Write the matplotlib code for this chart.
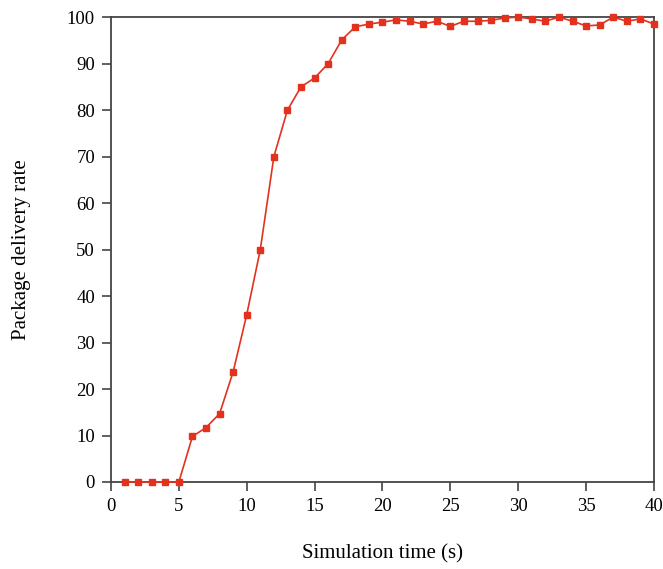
import numpy as np
import matplotlib
matplotlib.use('Agg')
import matplotlib.pyplot as plt

plt.rcParams['font.family'] = ['Liberation Serif', 'DejaVu Serif']

# simulation time (s)
sim_time = list(range(1, 41))
# package delivery rate
delivery_rate = [0, 0, 0, 0, 0, 9.8, 11.7, 14.7, 23.7, 36.0,
                 50.0, 70.0, 80.0, 85.0, 86.9, 90.0, 95.1, 97.9, 98.5, 98.9,
                 99.4, 99.1, 98.5, 99.1, 98.0, 99.1, 99.1, 99.3, 99.8, 100.0,
                 99.6, 99.1, 100.0, 99.1, 98.1, 98.3, 100.0, 99.1, 99.6, 98.5]

fig = plt.figure(figsize=(6.63, 5.69), dpi=100)
ax = fig.add_axes([0.1674, 0.1529, 0.819, 0.8171])

ax.plot(sim_time, delivery_rate, color='#e2321e', lw=1.2, marker='s',
        markersize=5, clip_on=False, zorder=3)

ax.set_xlim(0, 40)
ax.set_ylim(0, 100)
ax.set_xticks(np.arange(0, 41, 5))
ax.set_yticks(np.arange(0, 101, 10))

for s in ax.spines.values():
    s.set_color('#444444')
    s.set_linewidth(1.3)
ax.tick_params(direction='out', length=6.5, width=1.2, color='#444444',
               labelsize=13.5, pad=5)

ax.set_xlabel('Simulation time (s)', fontsize=15, labelpad=21)
ax.set_ylabel('Package delivery rate', fontsize=15, labelpad=26)

plt.savefig('out.png', dpi=100)
